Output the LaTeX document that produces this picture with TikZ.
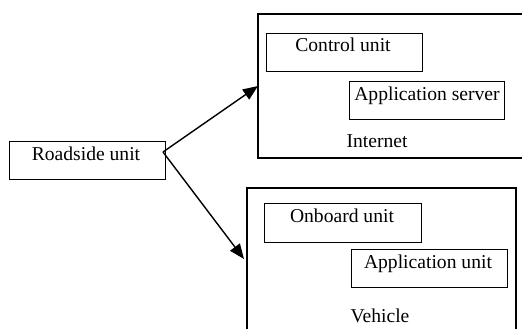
\documentclass[tikz,border=0pt]{standalone}
\usepackage{fontspec}
\setmainfont{Liberation Serif}
\usetikzlibrary{arrows.meta}
\begin{document}
\begin{tikzpicture}[x=1pt,y=-1pt,
  box/.style={draw,line width=1.4pt,rectangle,inner sep=0pt,anchor=north west},
  lbl/.style={font=\fontsize{19.6}{22}\selectfont,inner sep=0pt,anchor=base},
  conn/.style={line width=1.4pt,-{Triangle[length=15pt,width=12pt]}}]
\useasboundingbox (0,0) rectangle (522,329);
\fill[white] (0,0) rectangle (522,329);

% Internet group (right edge runs off the sheet)
\draw[line width=1.4pt] (522,14) -- (258,14) -- (258,158) -- (522,158);
\coordinate (inet) at (258,86);
\node[box,minimum width=156pt,minimum height=38pt] (cu) at (266,33) {};
\node[box,minimum width=155pt,minimum height=38pt] (as) at (349,81) {};
\node[lbl] at (343,52) {Control unit};
\node[lbl] at (427,100) {Application server};
\node[lbl] at (377,147) {Internet};

% Vehicle group (open at the bottom)
\draw[line width=1.4pt] (247,329) -- (247,188) -- (516,188) -- (516,329);
\coordinate (veh) at (244,259);
\node[box,minimum width=157pt,minimum height=39pt] (ob) at (264,203) {};
\node[box,minimum width=156pt,minimum height=38pt] (au) at (351,249) {};
\node[lbl] at (342,222) {Onboard unit};
\node[lbl] at (428,268) {Application unit};
\node[lbl] at (380,322) {Vehicle};

% Roadside unit
\node[box,minimum width=156pt,minimum height=38pt] (rsu) at (9,141) {};
\node[lbl] at (86,160) {Roadside unit};
\coordinate (rsuout) at (163,152);

\draw[conn] (rsuout) -- (inet);
\draw[conn] (rsuout) -- (veh);
\end{tikzpicture}
\end{document}
